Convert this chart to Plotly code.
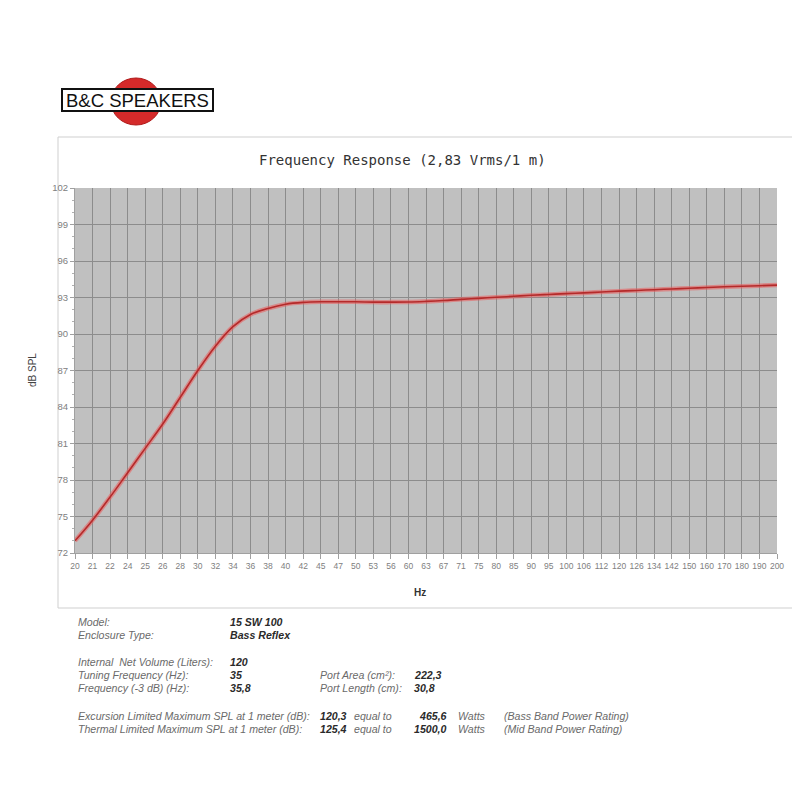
import plotly.graph_objects as go

# ---------------- data ----------------
freq_labels = ["20", "21", "22", "24", "25", "26", "28", "30", "32", "34", "36", "38",
               "40", "42", "45", "47", "50", "53", "56", "60", "63", "67", "71", "75",
               "80", "85", "90", "95", "100", "106", "112", "120", "126", "134", "142",
               "150", "160", "170", "180", "190", "200"]
spl_db = [73.0, 74.7, 76.6, 78.6, 80.6, 82.6, 84.8, 87.0, 89.0, 90.6, 91.6, 92.1,
          92.45, 92.6, 92.65, 92.65, 92.65, 92.62, 92.62, 92.63, 92.68, 92.75, 92.85,
          92.93, 93.02, 93.1, 93.18, 93.25, 93.32, 93.38, 93.45, 93.52, 93.58, 93.64,
          93.7, 93.76, 93.82, 93.88, 93.93, 93.97, 94.02]
y_ticks = [72, 75, 78, 81, 84, 87, 90, 93, 96, 99, 102]

title_text = "Frequency Response (2,83 Vrms/1 m)"
y_title = "dB SPL"
x_title = "Hz"
logo_text = "B&C SPEAKERS"

spec_labels_left = ["Model:", "Enclosure Type:", "Internal  Net Volume (Liters):",
                    "Tuning Frequency (Hz):", "Frequency (-3 dB) (Hz):"]
spec_values_left = ["15 SW 100", "Bass Reflex", "120", "35", "35,8"]
spec_labels_right = ["Port Area (cm²):", "Port Length (cm):"]
spec_values_right = ["222,3", "30,8"]
limit_labels = ["Excursion Limited Maximum SPL at 1 meter (dB):",
                "Thermal Limited Maximum SPL at 1 meter (dB):"]
limit_spl = ["120,3", "125,4"]
limit_watts = ["465,6", "1500,0"]
limit_notes = ["(Bass Band Power Rating)", "(Mid Band Power Rating)"]

# ---------------- layout geometry (page pixels) ----------------
OFF = 8  # page body margin
W, H = 800, 800
L, R, T, B = 75, 777, 188, 553  # plot area in page pixels


def px(x):
    return (x - L) / (R - L)


def py(y):
    return (B - y) / (B - T)


fig = go.Figure()
fig.add_trace(go.Scatter(x=freq_labels, y=spl_db, mode="lines",
                         line=dict(color="rgba(235,90,90,0.55)", width=4.5, shape="spline"),
                         hoverinfo="skip", showlegend=False))
fig.add_trace(go.Scatter(x=freq_labels, y=spl_db, mode="lines",
                         line=dict(color="#b52a2a", width=1.6, shape="spline"),
                         showlegend=False))

shapes = [
    # chart frame
    dict(type="rect", xref="paper", yref="paper", x0=px(58), x1=px(799), y0=py(608), y1=py(137),
         line=dict(color="#cfcfcf", width=1), fillcolor="rgba(0,0,0,0)", layer="below"),
    # logo circle
    dict(type="circle", xref="paper", yref="paper", x0=px(111), x1=px(161), y0=py(125), y1=py(78),
         line=dict(color="#b01818", width=1), fillcolor="#d42a2a"),
    # logo bar
    dict(type="rect", xref="paper", yref="paper", x0=px(62), x1=px(213), y0=py(111), y1=py(89),
         line=dict(color="#111111", width=2), fillcolor="white"),
]

ann = []
ann.append(dict(text=logo_text, x=px(137.5), y=py(100.5), xref="paper", yref="paper",
                showarrow=False, font=dict(family="Liberation Sans", size=18.5, color="#111"),
                xanchor="center", yanchor="middle"))
ann.append(dict(text=title_text, x=px(402), y=py(160), xref="paper", yref="paper",
                showarrow=False, font=dict(family="DejaVu Sans Mono", size=14, color="#333"),
                xanchor="center", yanchor="middle"))
ann.append(dict(text=y_title, x=px(32), y=py(370), xref="paper", yref="paper", textangle=-90,
                showarrow=False, font=dict(family="Liberation Sans", size=10, color="#444"),
                xanchor="center", yanchor="middle"))
ann.append(dict(text="<b>" + x_title + "</b>", x=px(420), y=py(592), xref="paper", yref="paper",
                showarrow=False, font=dict(family="Liberation Sans", size=10, color="#333"),
                xanchor="center", yanchor="middle"))

lab_font = dict(family="Liberation Sans", size=10.6, color="#6a6a6a")
val_font = dict(family="Liberation Sans", size=10.6, color="#2a2a2a")


def text_at(t, x, y, font, anchor="left", bold=False):
    s = "<i>" + t + "</i>"
    if bold:
        s = "<b>" + s + "</b>"
    ann.append(dict(text=s, x=px(x), y=py(y), xref="paper", yref="paper", showarrow=False,
                    font=font, xanchor=anchor, yanchor="middle"))


left_rows_y = [622, 635, 662, 675, 688]
for lab, val, yy in zip(spec_labels_left, spec_values_left, left_rows_y):
    text_at(lab, 76, yy, lab_font)
    text_at(val, 228, yy, val_font, bold=True)
for lab, val, yy in zip(spec_labels_right, spec_values_right, left_rows_y[3:]):
    text_at(lab, 318, yy, lab_font)
    text_at(val, 412, yy, val_font, bold=True)
for lab, spl, w, note, yy in zip(limit_labels, limit_spl, limit_watts, limit_notes, [716, 729]):
    text_at(lab, 76, yy, lab_font)
    text_at(spl, 318, yy, val_font, bold=True)
    text_at("equal to", 352, yy, lab_font)
    text_at(w, 449, yy, val_font, anchor="right", bold=True)
    text_at("Watts", 456, yy, lab_font)
    text_at(note, 502, yy, lab_font)

fig.update_layout(
    width=W, height=H,
    margin=dict(l=L - OFF, r=W - R + OFF, t=T - OFF, b=H - B + OFF, pad=0),
    paper_bgcolor="white", plot_bgcolor="#c0c0c0",
    shapes=shapes, annotations=ann, showlegend=False,
    xaxis=dict(type="category", range=[0, len(freq_labels) - 1], showgrid=True,
               gridcolor="#8c8c8c", gridwidth=1, zeroline=False,
               ticks="outside", ticklen=5, tickcolor="#a0a0a0",
               tickfont=dict(family="Liberation Sans", size=8.5, color="#808080"),
               showline=True, linecolor="#a0a0a0", linewidth=1, fixedrange=True),
    yaxis=dict(range=[72, 102], tickvals=y_ticks, showgrid=True, gridcolor="#8c8c8c", gridwidth=1,
               zeroline=False, ticks="outside", ticklen=4, tickcolor="#a0a0a0",
               tickfont=dict(family="Liberation Sans", size=9.5, color="#808080"),
               showline=True, linecolor="#a0a0a0", linewidth=1,
               minor=dict(dtick=1, ticks="outside", ticklen=2, tickcolor="#b0b0b0", showgrid=False),
               fixedrange=True),
)

fig.write_html("out.html")
